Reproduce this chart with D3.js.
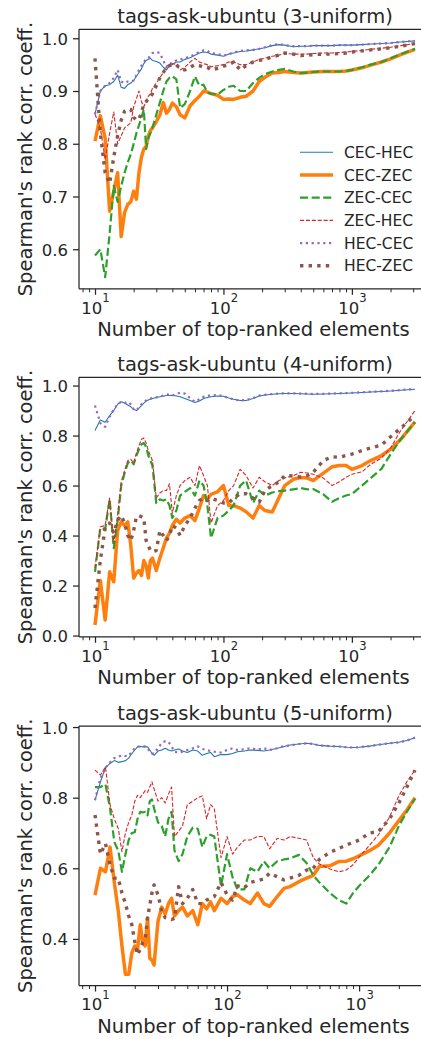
<!DOCTYPE html>
<html>
<head>
<meta charset="utf-8">
<script src="https://cdn.jsdelivr.net/npm/d3@7/dist/d3.min.js"></script>
<style>
  html, body { margin: 0; padding: 0; background: #fff; }
  svg { display: block; font-family: "DejaVu Sans", sans-serif; }
</style>
</head>
<body>
<svg id="chart" width="421" height="1039"></svg>
<script>
// ---------- data ----------
const seriesNames = ["CEC-HEC", "CEC-ZEC", "ZEC-CEC", "ZEC-HEC", "HEC-CEC", "HEC-ZEC"];
const titles = ["tags-ask-ubuntu (3-uniform)", "tags-ask-ubuntu (4-uniform)", "tags-ask-ubuntu (5-uniform)"];
const xLabel = "Number of top-ranked elements";
const yLabel = "Spearman's rank corr. coeff.";

// number of top-ranked elements (x values)
const xs12 = [10,11,12,13,14,15,16,17,18,19,20,21,22,23,24,25,26,27,28,30,32,34,36,38,40,43,46,50,55,60,65,70,75,80,90,100,110,120,135,150,170,190,210,240,270,300,350,400,450,500,600,700,800,900,1000,1200,1400,1700,2000,2400,3100];
const xs3 = [10,11,12,13,14,15,16,17,18,19,20,21,22,23,24,25,26,27,28,30,32,34,36,38,40,43,46,50,55,60,65,70,75,80,90,100,110,120,135,150,170,190,210,240,270,300,350,400,450,500,600,700,800,900,1000,1200,1400,1700,2000,2300,2650];

// Panel 1 (3-uniform)
const p1CecHec = [.856,.9,.91,.912,.918,.93,.907,.905,.912,.915,.92,.928,.935,.942,.952,.958,.96,.962,.958, .956,.953,.945,.94,.948,.95, .955,.955,.96,.963,.968,.972,.974,.973,.97,.968,.966, .97,.972,.975,.976,.978,.98,.982,.986,.988,.987, .984,.985,.985,.986,.986,.986,.987,.987,.987, .988,.989,.99,.991,.993,.995];
const p1CecZec = [.805,.853,.81,.672,.71,.745,.624,.67,.685,.69,.71,.695,.745,.775,.79,.795,.815,.825,.83, .842,.855,.878,.858,.865,.877, .87,.855,.849,.872,.882,.89,.9,.898,.895,.892,.884, .885,.884,.888,.89,.9,.918,.926,.934,.935,.937, .935,.934,.935,.936,.937,.937,.937,.938,.94, .944,.949,.955,.961,.969,.979];
const p1ZecCec = [.588,.6,.547,.63,.72,.69,.72,.745,.765,.78,.8,.82,.835,.85,.865,.79,.81,.82,.83, .855,.878,.9,.918,.925,.928, .922,.868,.875,.9,.928,.91,.912,.897,.895,.893,.902, .908,.91,.9,.9,.915,.925,.932,.937,.94,.942, .937,.934,.935,.936,.937,.937,.937,.938,.94, .945,.95,.955,.962,.97,.98];
const p1ZecHec = [.856,.83,.77,.82,.86,.8,.815,.83,.835,.84,.87,.885,.9,.88,.87,.88,.89,.895,.905, .915,.925,.935,.947,.95,.952, .95,.94,.945,.955,.962,.955,.952,.95,.946,.948,.95, .955,.955,.95,.95,.955,.96,.962,.966,.968,.971, .97,.97,.97,.971,.972,.972,.973,.974,.975, .977,.979,.981,.983,.986,.99];
const p1HecCec = [.856,.9,.91,.915,.925,.94,.918,.915,.918,.918,.92,.93,.94,.948,.955,.96,.962,.968,.972, .974,.972,.958,.945,.95,.955, .958,.96,.962,.965,.97,.974,.977,.976,.972,.97,.967, .97,.973,.976,.977,.978,.98,.983,.987,.989,.987, .985,.985,.985,.986,.986,.986,.987,.987,.987, .988,.989,.99,.991,.993,.995];
const p1HecZec = [.962,.82,.745,.725,.775,.815,.845,.862,.866,.865,.85,.845,.846,.86,.875,.88,.885,.888,.895, .91,.925,.935,.945,.948,.95, .95,.942,.94,.945,.95,.948,.945,.945,.94,.943,.947, .95,.955,.94,.948,.955,.958,.96,.965,.968,.972, .97,.967,.968,.969,.97,.97,.971,.972,.974, .976,.978,.98,.982,.985,.99];

// Panel 2 (4-uniform)
const p2CecHec = [.82,.862,.853,.88,.9,.925,.935,.93,.922,.915,.905,.9,.91,.92,.93,.938,.942,.945,.948, .952,.955,.957,.96,.96,.961, .958,.955,.948,.94,.932,.938,.948,.952,.955,.958,.957, .95,.945,.94,.94,.948,.958,.962,.965,.967,.968, .968,.967,.966,.965,.966,.967,.968,.969,.97, .972,.974,.976,.978,.981,.985];
const p2CecZec = [.042,.22,.062,.255,.215,.42,.455,.44,.455,.36,.23,.25,.26,.24,.3,.28,.23,.3,.31, .26,.31,.35,.39,.41,.44, .465,.45,.47,.48,.46,.51,.56,.545,.565,.575,.6, .52,.52,.51,.495,.47,.52,.5,.494,.55,.6, .625,.632,.63,.62,.65,.675,.68,.68,.665, .68,.7,.72,.745,.785,.855];
const p2ZecCec = [.255,.43,.425,.545,.35,.46,.6,.65,.69,.7,.685,.72,.745,.765,.77,.755,.72,.7,.68, .53,.545,.54,.545,.52,.47, .5,.56,.575,.59,.56,.62,.6,.52,.39,.47,.48, .5,.52,.6,.62,.53,.58,.56,.572,.578,.58, .585,.59,.585,.586,.565,.535,.55,.56,.566, .6,.63,.667,.725,.785,.853];
const p2ZecHec = [.27,.435,.44,.55,.37,.48,.615,.66,.7,.705,.69,.73,.76,.785,.79,.77,.74,.72,.7, .55,.57,.58,.58,.607,.49, .56,.6,.62,.633,.6,.68,.64,.6,.45,.52,.54, .58,.6,.665,.64,.59,.633,.615,.6,.62,.63, .64,.653,.65,.645,.63,.6,.615,.633,.645, .655,.685,.71,.75,.82,.9];
const p2HecCec = [.92,.85,.835,.875,.905,.925,.935,.93,.935,.925,.905,.9,.912,.925,.935,.94,.945,.948,.95, .953,.955,.96,.965,.962,.96, .965,.972,.968,.95,.935,.945,.955,.96,.96,.962,.958, .95,.945,.94,.942,.95,.96,.963,.966,.968,.969, .969,.968,.967,.966,.967,.968,.969,.97,.971, .973,.975,.977,.979,.982,.986];
const p2HecZec = [.11,.3,.43,.45,.41,.46,.48,.45,.4,.38,.42,.475,.48,.475,.47,.38,.36,.34,.335, .34,.42,.4,.38,.4,.44, .43,.4,.44,.47,.51,.54,.55,.54,.55,.54,.53, .53,.55,.567,.567,.55,.534,.58,.6,.614,.64, .638,.634,.64,.653,.7,.715,.713,.72,.726, .74,.75,.762,.795,.83,.88];

// Panel 3 (5-uniform)
const p3CecHec = [.793,.845,.885,.897,.905,.9,.902,.905,.912,.925,.935,.944,.945,.944,.944,.944,.935,.925,.92, .932,.935,.94,.935,.932,.935, .938,.932,.928,.935,.932,.92,.925,.928,.916,.922,.922, .925,.93,.932,.935,.934,.932,.935,.94,.945,.949, .952,.954,.952,.948,.946,.945,.943,.942,.943, .946,.95,.954,.957,.962,.97];
const p3CecZec = [.524,.6,.59,.66,.56,.48,.38,.3,.3,.36,.38,.37,.44,.39,.38,.46,.345,.34,.326, .45,.49,.47,.5,.515,.465, .48,.49,.465,.48,.44,.5,.485,.505,.48,.515,.5, .52,.525,.51,.5,.53,.5,.492,.52,.543,.548, .562,.572,.58,.605,.607,.619,.62,.627,.635, .65,.665,.7,.735,.765,.8];
const p3ZecCec = [.83,.83,.838,.77,.675,.65,.59,.64,.68,.7,.702,.74,.76,.758,.76,.75,.79,.795,.77, .73,.72,.69,.74,.76,.65, .62,.64,.69,.715,.712,.66,.69,.695,.69,.55,.64, .575,.54,.54,.6,.59,.62,.6,.62,.625,.628, .638,.615,.58,.56,.53,.51,.5,.53,.55, .58,.61,.66,.72,.76,.797];
const p3ZecHec = [.878,.864,.887,.78,.74,.713,.647,.7,.73,.75,.79,.807,.8,.81,.82,.815,.83,.845,.825, .79,.8,.785,.81,.83,.69, .705,.72,.78,.79,.8,.805,.74,.78,.77,.63,.69, .64,.66,.68,.68,.69,.69,.655,.685,.68,.69, .685,.68,.63,.612,.598,.59,.595,.61,.632, .665,.695,.745,.805,.845,.878];
const p3HecCec = [.793,.855,.885,.9,.912,.916,.92,.918,.918,.93,.94,.944,.946,.947,.945,.94,.93,.925,.925, .94,.955,.96,.958,.945,.93, .928,.93,.935,.94,.945,.938,.935,.932,.93,.928,.935, .94,.935,.937,.94,.936,.94,.935,.94,.946,.948, .952,.954,.952,.948,.946,.945,.943,.942,.943, .946,.95,.954,.957,.962,.97];
const p3HecZec = [.751,.64,.67,.61,.572,.572,.53,.5,.465,.44,.393,.355,.37,.39,.4,.46,.496,.53,.553, .525,.478,.46,.458,.455,.458, .548,.5,.515,.54,.5,.5,.51,.515,.52,.56,.525, .51,.55,.545,.56,.565,.57,.586,.576,.567,.572, .58,.595,.6,.625,.645,.656,.666,.673,.68, .7,.704,.74,.785,.83,.878];

// axis ticks and limits
const yTicks1 = [0.6, 0.7, 0.8, 0.9, 1.0];
const yTicks2 = [0.0, 0.2, 0.4, 0.6, 0.8, 1.0];
const yTicks3 = [0.4, 0.6, 0.8, 1.0];
const yLim1 = [0.525, 1.017];
const yLim2 = [-0.005, 1.033];
const yLim3 = [0.268, 1.003];
const xMajorTicks = [10, 100, 1000];
const xMajorExp = ["1", "2", "3"];

// ---------- style ----------
const colors = ["#1f77b4", "#ff7f0e", "#2ca02c", "#d62728", "#9467bd", "#8c564b"];
const widths = [1.1, 3.5, 2.2, 1.1, 2.2, 3.4];
const dashes = [null, null, "8.1,3.5", "4.1,1.8", "2.2,3.6", "3.4,5.2"];
const ink = "#262626";

const panels = [
  { title: titles[0], xs: xs12, ys: [p1CecHec, p1CecZec, p1ZecCec, p1ZecHec, p1HecCec, p1HecZec], yLim: yLim1, yTicks: yTicks1, top: 29.3, legend: true },
  { title: titles[1], xs: xs12, ys: [p2CecHec, p2CecZec, p2ZecCec, p2ZecHec, p2HecCec, p2HecZec], yLim: yLim2, yTicks: yTicks2, top: 377.3, legend: false },
  { title: titles[2], xs: xs3,  ys: [p3CecHec, p3CecZec, p3ZecCec, p3ZecHec, p3HecCec, p3HecZec], yLim: yLim3, yTicks: yTicks3, top: 726, legend: false }
];

const svg = d3.select("#chart");
svg.append("rect").attr("width", 421).attr("height", 1039).attr("fill", "#fff");

const left = 79, width = 352, height = 259.5;

panels.forEach((p, pi) => {
  const lx0 = Math.log10(d3.min(p.xs)), lx1 = Math.log10(d3.max(p.xs));
  const pad = (lx1 - lx0) * 0.05;
  const x = d3.scaleLog().domain([Math.pow(10, lx0 - pad), Math.pow(10, lx1 + pad)]).range([0, width]);
  const y = d3.scaleLinear().domain(p.yLim).range([height, 0]);

  const g = svg.append("g").attr("transform", `translate(${left},${p.top})`);

  const clipId = "clip" + pi;
  g.append("clipPath").attr("id", clipId).append("rect")
    .attr("x", 0).attr("y", 0).attr("width", width).attr("height", height);

  // lines
  const line = d3.line().x(d => x(d[0])).y(d => y(d[1]));
  const lg = g.append("g").attr("clip-path", `url(#${clipId})`);
  p.ys.forEach((vals, si) => {
    const pts = p.xs.map((xv, i) => [xv, vals[i]]);
    lg.append("path")
      .attr("d", line(pts))
      .attr("fill", "none")
      .attr("stroke", colors[si])
      .attr("stroke-width", widths[si])
      .attr("stroke-linejoin", "round")
      .attr("stroke-dasharray", dashes[si]);
  });

  // y axis
  const yAxis = d3.axisLeft(y).tickValues(p.yTicks).tickFormat(d3.format(".1f")).tickSize(6).tickPadding(5);
  const ya = g.append("g").call(yAxis);
  ya.select(".domain").remove();
  ya.selectAll(".tick line").attr("stroke", ink).attr("stroke-width", 1.25);
  ya.selectAll(".tick text").attr("fill", ink).attr("font-size", "16.5px")
    .attr("font-family", "DejaVu Sans").attr("dy", "0.36em");

  // x axis: minor ticks
  const [d0, d1] = x.domain();
  const minor = [];
  for (let e = 0; e <= 4; e++) {
    for (let m = 2; m <= 9; m++) {
      const v = m * Math.pow(10, e);
      if (v >= d0 && v <= d1) minor.push(v);
    }
  }
  const xMinor = d3.axisBottom(x).tickValues(minor).tickFormat("").tickSize(3.5);
  const xm = g.append("g").attr("transform", `translate(0,${height})`).call(xMinor);
  xm.select(".domain").remove();
  xm.selectAll(".tick line").attr("stroke", ink).attr("stroke-width", 1.0);

  const xMajor = d3.axisBottom(x).tickValues(xMajorTicks).tickFormat("").tickSize(6);
  const xa = g.append("g").attr("transform", `translate(0,${height})`).call(xMajor);
  xa.select(".domain").remove();
  xa.selectAll(".tick line").attr("stroke", ink).attr("stroke-width", 1.25);
  xa.selectAll(".tick").each(function(d, i) {
    const t = d3.select(this).append("text")
      .attr("y", 24.8).attr("fill", ink).attr("font-size", "16.5px")
      .attr("text-anchor", "middle").attr("font-family", "DejaVu Sans");
    t.append("tspan").text("10");
    t.append("tspan").attr("dy", -11.3).attr("font-size", "11.6px").text(xMajorExp[i]);
  });

  // spines
  g.append("line").attr("x1", 0).attr("x2", 0).attr("y1", 0).attr("y2", height)
    .attr("stroke", ink).attr("stroke-width", 1.25);
  g.append("line").attr("x1", 0).attr("x2", width).attr("y1", height).attr("y2", height)
    .attr("stroke", ink).attr("stroke-width", 1.25);
  g.append("line").attr("x1", 0).attr("x2", width).attr("y1", 0).attr("y2", 0)
    .attr("stroke", ink).attr("stroke-width", 1.25);
  g.append("line").attr("x1", width).attr("x2", width).attr("y1", 0).attr("y2", height)
    .attr("stroke", ink).attr("stroke-width", 1.25);

  // title
  g.append("text").attr("x", width / 2).attr("y", -6)
    .attr("text-anchor", "middle").attr("font-size", "19.5px").attr("fill", ink)
    .text(p.title);

  // axis labels
  g.append("text").attr("x", width / 2 - 1.5).attr("y", height + 47.5)
    .attr("text-anchor", "middle").attr("font-size", "19.5px").attr("fill", ink)
    .text(xLabel);
  g.append("text")
    .attr("transform", `translate(${-left + 32},${height / 2}) rotate(-90)`)
    .attr("text-anchor", "middle").attr("font-size", "19.5px").attr("fill", ink)
    .text(yLabel);

  // legend
  if (p.legend) {
    const lgd = svg.append("g");
    seriesNames.forEach((name, si) => {
      const ly = 152.3 + si * 22.7;
      lgd.append("line").attr("x1", 300).attr("x2", 333).attr("y1", ly).attr("y2", ly)
        .attr("stroke", colors[si]).attr("stroke-width", widths[si])
        .attr("stroke-dasharray", dashes[si]);
      lgd.append("text").attr("x", 344).attr("y", ly).attr("dy", "0.36em")
        .attr("font-size", "15.5px").attr("fill", ink).text(name);
    });
  }
});
</script>
</body>
</html>
